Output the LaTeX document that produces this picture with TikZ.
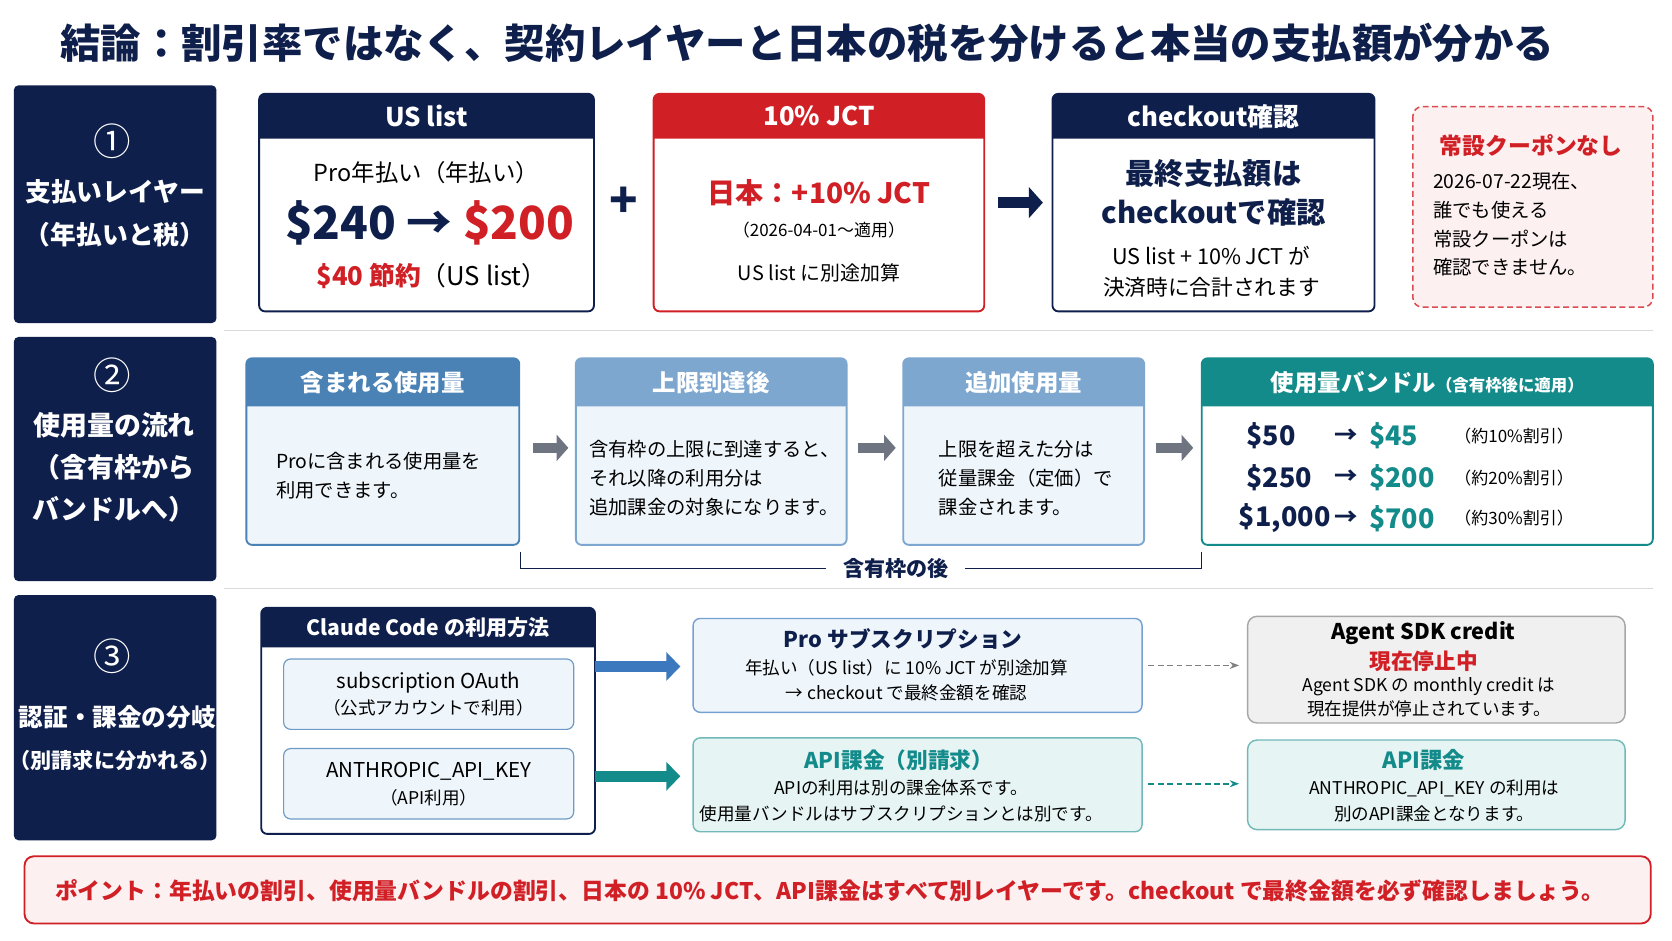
\documentclass[tikz,border=0pt]{standalone}
\usepackage{fontspec}
\setmainfont{Noto Sans CJK JP}
\usetikzlibrary{arrows.meta}
\definecolor{navy}{HTML}{0F1F4B}
\definecolor{jred}{HTML}{D11F26}
\definecolor{sblue}{HTML}{4A82B6}
\definecolor{lblue}{HTML}{7EA7D0}
\definecolor{bodyb}{HTML}{EEF5FB}
\definecolor{teal}{HTML}{138B8A}
\definecolor{bodyt}{HTML}{E6F4F3}
\definecolor{pinkf}{HTML}{FDF0F0}
\definecolor{arrgray}{HTML}{6E7480}
\definecolor{ablue}{HTML}{3C78BE}
\newcommand\fz[1]{\fontsize{#1pt}{\dimexpr#1pt*3/2\relax}\selectfont}
\newcommand\hbx[8]{%
  \draw[#7,line width=1.6pt,fill=#8,rounded corners=5] (#2,#3) rectangle (#4,#5);
  \fill[#7] (#2,#6) [rounded corners=5]-- (#2,#3) -- (#4,#3) [sharp corners]-- (#4,#6) -- cycle;
  \coordinate (#1) at ({(#2+#4)/2},{(#3+#6)/2});}
\begin{document}
\begin{tikzpicture}[x=0.032cm,y=-0.032cm,
  side/.style={fill=navy,rounded corners=4},
  ht/.style={text=white,font=\fz{20}\bfseries},
  bt/.style={align=center,font=\fz{16}},
  garr/.style={-{Triangle[length=10pt,width=22pt]},line width=8pt,arrgray},
  darr/.style={-{Stealth[length=8pt]},dash pattern=on 5pt off 3pt,line width=1.4pt}]
\useasboundingbox (0,0) rectangle (1568,882);
\fill[white] (0,0) rectangle (1568,882);
\node[font=\fz{34.5}\bfseries,text=navy] (title) at (757,40) {結論：割引率ではなく、契約レイヤーと日本の税を分けると本当の支払額が分かる};
% side panels
\fill[side] (13,80) rectangle (203,303);
\fill[side] (13,316) rectangle (203,545);
\fill[side] (13,558) rectangle (203,788);
\node[text=white,font=\fz{32}] (n1) at (105,132) {①};
\node[text=white,align=center,font=\fontsize{22pt}{36pt}\selectfont\bfseries] (s1) at (108,200) {支払いレイヤー\\（年払いと税）};
\node[text=white,font=\fz{32}] (n2) at (105,352) {②};
\node[text=white,align=center,font=\fontsize{23pt}{36pt}\selectfont\bfseries] (s2) at (107,438) {使用量の流れ\\（含有枠から\\バンドルへ）};
\node[text=white,font=\fz{32}] (n3) at (105,615) {③};
\node[text=white,font=\fz{21}\bfseries] (s3a) at (110,673) {認証・課金の分岐};
\node[text=white,font=\fz{18}\bfseries] (s3b) at (108,713) {（別請求に分かれる）};
\draw[gray!30,line width=1pt] (210,310) -- (1550,310);
\draw[gray!30,line width=1pt] (210,552) -- (1550,552);
% row 1
\hbx{h1}{243}{88}{557}{292}{130}{navy}{white}
\node[ht,font=\fz{22}\bfseries] (t1) at (h1) {US list};
\node[font=\fz{20}] (b1a) at (400,162) {Pro年払い（年払い）};
\node[font=\fz{39}\bfseries] (b1b) at (403,209) {\textcolor{navy}{\$240 →} \textcolor{jred}{\$200}};
\node[font=\fz{22}] (b1c) at (405,259) {\textcolor{jred}{\bfseries \$40 節約}（US list）};
\node[font=\fz{40}\bfseries,text=navy] (plus) at (585,190) {+};
\hbx{h2}{613}{88}{923}{292}{130}{jred}{white}
\node[ht,font=\fz{22}\bfseries] (t2) at (h2) {10\% JCT};
\node[font=\fz{24}\bfseries,text=jred] (b2a) at (768,181) {日本：+10\% JCT};
\node[font=\fz{14.5}] (b2b) at (768,216) {（2026-04-01〜適用）};
\node[font=\fz{17}] (b2c) at (768,256) {US list に別途加算};
\draw[-{Triangle[length=12pt,width=26pt]},line width=10pt,navy] (936,190) -- (978,190);
\hbx{h3}{987}{88}{1289}{292}{130}{navy}{white}
\node[ht,font=\fz{22}\bfseries] (t3) at (h3) {checkout確認};
\node[font=\fontsize{25pt}{33pt}\selectfont\bfseries,text=navy,align=center] (b3a) at (1138,181) {最終支払額は\\checkoutで確認};
\node[bt,font=\fontsize{18.5pt}{26pt}\selectfont] (b3b) at (1136,255) {US list + 10\% JCT が\\決済時に合計されます};
\draw[jred!80,dash pattern=on 5pt off 3pt,line width=1.3pt,fill=pinkf,rounded corners=8] (1325,100) rectangle (1550,288);
\node[font=\fz{19.5}\bfseries,text=jred] (c1) at (1436,137) {常設クーポンなし};
\node[align=left,font=\fontsize{16.5pt}{24.5pt}\selectfont,anchor=north west] (c2) at (1340,158) {2026-07-22現在、\\誰でも使える\\常設クーポンは\\確認できません。};
% row 2
\hbx{r1}{231}{336}{487}{511}{381}{sblue}{bodyb}
\node[ht] (u1) at (r1) {含まれる使用量};
\node[align=left,font=\fz{16.5},anchor=west] (u1b) at (255,446) {Proに含まれる使用量を\\利用できます。};
\draw[garr] (500,420) -- (533,420);
\hbx{r2}{540}{336}{794}{511}{381}{lblue}{bodyb}
\node[ht] (u2) at (r2) {上限到達後};
\node[align=left,font=\fz{16.5}] (u2b) at (670,448) {含有枠の上限に到達すると、\\それ以降の利用分は\\追加課金の対象になります。};
\draw[garr] (805,420) -- (840,420);
\hbx{r3}{847}{336}{1073}{511}{381}{lblue}{bodyb}
\node[ht] (u3) at (r3) {追加使用量};
\node[align=left,font=\fz{16.5}] (u3b) at (962,448) {上限を超えた分は\\従量課金（定価）で\\課金されます。};
\draw[garr] (1084,420) -- (1119,420);
\hbx{r4}{1127}{336}{1550}{511}{381}{teal}{white}
\node[ht,text=white] (u4) at (r4) {使用量バンドル\fz{14}（含有枠後に適用）};
\foreach \a/\b/\c/\yy/\xx/\nm in {\$50/\$45/約10\%割引/409/1165/q1,\$250/\$200/約20\%割引/448/1165/q2,\$1{,}000/\$700/約30\%割引/486/1158/q3}{
  \node[anchor=west,font=\fz{23}\bfseries,text=navy] (\nm a) at (\xx,\yy) {\a};
  \node[font=\fz{20}\bfseries,text=navy] (\nm r) at (1262,\yy) {→};
  \node[anchor=west,font=\fz{23}\bfseries,text=teal] (\nm b) at (1280,\yy) {\b};
  \node[anchor=west,font=\fz{14.5}] (\nm c) at (1360,\yy) {（\c）};
}
\node[font=\fz{18}\bfseries,text=navy,inner xsep=14pt] (bk) at (840,533) {含有枠の後};
\draw[navy,line width=1pt] (488,518) |- (bk.west);
\draw[navy,line width=1pt] (1127,518) |- (bk.east);
% row 3
\hbx{cc}{245}{570}{558}{782}{607}{navy}{white}
\node[ht,font=\fz{18}\bfseries] (cct) at (cc) {Claude Code の利用方法};
\draw[sblue!80,line width=1pt,fill=bodyb,rounded corners=6] (266,618) rectangle (538,684);
\node[bt,font=\fontsize{17.5pt}{23pt}\selectfont] (i1) at (402,651) {subscription OAuth\\\fz{15}（公式アカウントで利用）};
\draw[sblue!80,line width=1pt,fill=bodyb,rounded corners=6] (266,702) rectangle (538,768);
\node[bt,font=\fontsize{17.5pt}{23pt}\selectfont] (i2) at (402,735) {ANTHROPIC\_API\_KEY\\\fz{15}（API利用）};
\draw[ablue!70,line width=1.2pt,fill=bodyb,rounded corners=6] (650,580) rectangle (1071,668);
\node[font=\fz{18.5}\bfseries,text=navy] (pt) at (847,599) {Pro サブスクリプション};
\node[bt,font=\fontsize{15pt}{22pt}\selectfont] (pb) at (850,638) {年払い（US list）に 10\% JCT が別途加算\\→ checkout で最終金額を確認};
\draw[teal!60,line width=1.2pt,fill=bodyt,rounded corners=6] (650,692) rectangle (1071,780);
\node[font=\fz{18.5}\bfseries,text=teal] (at) at (843,713) {API課金（別請求）};
\node[bt,font=\fontsize{15pt}{22pt}\selectfont] (ab) at (845,751) {APIの利用は別の課金体系です。\\使用量バンドルはサブスクリプションとは別です。};
\draw[-{Triangle[length=12pt,width=24pt]},line width=9pt,ablue] (558,625) -- (638,625);
\draw[-{Triangle[length=12pt,width=24pt]},line width=9pt,teal] (558,728) -- (638,728);
\draw[gray!70,line width=1.2pt,fill=gray!12,rounded corners=8] (1170,578) rectangle (1524,678);
\node[font=\fz{18.5}\bfseries] (st) at (1335,594) {Agent SDK credit};
\node[font=\fz{18.5}\bfseries,text=jred] (ss) at (1335,620) {現在停止中};
\node[bt,font=\fontsize{15pt}{20pt}\selectfont] (sb) at (1340,654) {Agent SDK の monthly credit は\\現在提供が停止されています。};
\draw[teal!60,line width=1.2pt,fill=bodyt,rounded corners=8] (1170,694) rectangle (1524,778);
\node[font=\fz{19}\bfseries,text=teal] (a2t) at (1335,713) {API課金};
\node[bt,font=\fontsize{15pt}{22pt}\selectfont] (a2b) at (1345,751) {ANTHROPIC\_API\_KEY の利用は\\別のAPI課金となります。};
\draw[darr,gray] (1077,624) -- (1162,624);
\draw[darr,teal] (1077,735) -- (1162,735);
% bottom
\draw[jred,line width=1.6pt,fill=pinkf,rounded corners=8] (23,803) rectangle (1548,866);
\node[font=\fz{19.5}\bfseries,text=jred] (pt2) at (778,835) {ポイント：年払いの割引、使用量バンドルの割引、日本の 10\% JCT、API課金はすべて別レイヤーです。checkout で最終金額を必ず確認しましょう。};
\end{tikzpicture}
\end{document}
